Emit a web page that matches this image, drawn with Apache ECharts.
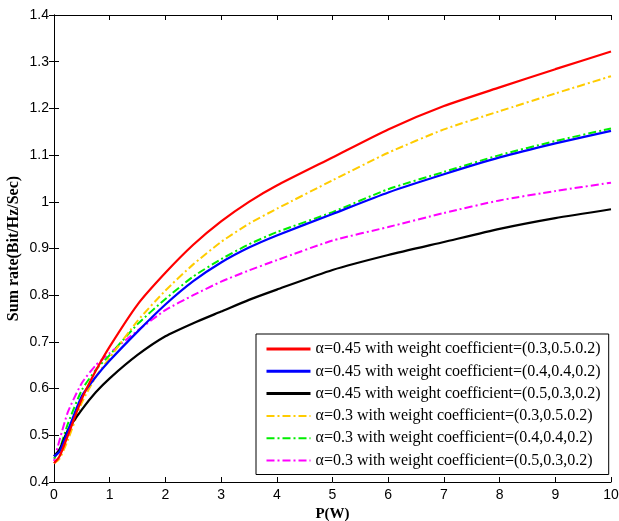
<!DOCTYPE html>
<html>
<head>
<meta charset="utf-8">
<script src="https://cdn.jsdelivr.net/npm/echarts@6/dist/echarts.min.js"></script>
<style>html,body{margin:0;padding:0;background:#fff;}#c{width:619px;height:521px;}</style>
</head>
<body>
<div id="c"></div>
<script>
var pValues = [0, 0.1, 0.25, 0.5, 0.75, 1, 1.5, 2, 2.5, 3, 3.5, 4, 5, 6, 7, 8, 9, 10];
var seriesNames = [
  'α=0.45 with weight coefficient=(0.3,0.5.0.2)',
  'α=0.45 with weight coefficient=(0.4,0.4,0.2)',
  'α=0.45 with weight coefficient=(0.5,0.3,0.2)',
  'α=0.3 with weight coefficient=(0.3,0.5.0.2)',
  'α=0.3 with weight coefficient=(0.4,0.4,0.2)',
  'α=0.3 with weight coefficient=(0.5,0.3,0.2)'
];
var red045     = [0.44, 0.455, 0.50, 0.578, 0.638, 0.69, 0.78, 0.848, 0.908, 0.958, 1.0, 1.035, 1.095, 1.155, 1.205, 1.245, 1.284, 1.322];
var blue045    = [0.455, 0.465, 0.51, 0.584, 0.625, 0.66, 0.722, 0.78, 0.83, 0.87, 0.902, 0.928, 0.974, 1.02, 1.059, 1.095, 1.125, 1.152];
var black045   = [0.455, 0.47, 0.511, 0.555, 0.592, 0.622, 0.672, 0.712, 0.74, 0.765, 0.79, 0.812, 0.854, 0.886, 0.914, 0.942, 0.965, 0.984];
var yellow03   = [0.44, 0.45, 0.49, 0.57, 0.625, 0.666, 0.745, 0.81, 0.866, 0.914, 0.953, 0.985, 1.046, 1.105, 1.155, 1.194, 1.232, 1.269];
var green03    = [0.45, 0.47, 0.525, 0.597, 0.64, 0.672, 0.738, 0.792, 0.84, 0.877, 0.909, 0.935, 0.978, 1.027, 1.064, 1.10, 1.13, 1.157];
var magenta03  = [0.445, 0.49, 0.55, 0.612, 0.65, 0.676, 0.724, 0.768, 0.8, 0.829, 0.853, 0.875, 0.917, 0.946, 0.976, 1.003, 1.023, 1.041];
var xTicks = [0, 1, 2, 3, 4, 5, 6, 7, 8, 9, 10];
var yTicks = [0.4, 0.5, 0.6, 0.7, 0.8, 0.9, 1, 1.1, 1.2, 1.3, 1.4];

function pairs(arr) { return pValues.map(function (p, i) { return [p, arr[i]]; }); }

var dashDot = [8, 3, 2, 3];
var styles = [
  { data: red045, color: '#ff0000', type: 'solid', width: 2.2, legendWidth: 3 },
  { data: blue045, color: '#0000ff', type: 'solid', width: 2.2, legendWidth: 3 },
  { data: black045, color: '#000000', type: 'solid', width: 2.2, legendWidth: 3 },
  { data: yellow03, color: '#ffcc00', type: dashDot, width: 2, legendWidth: 2 },
  { data: green03, color: '#00ee00', type: dashDot, width: 2, legendWidth: 2 },
  { data: magenta03, color: '#ff00ff', type: dashDot, width: 2, legendWidth: 2 }
];

var chart = echarts.init(document.getElementById('c'), null, { renderer: 'canvas' });
var tickFont = { fontFamily: 'Liberation Sans', fontSize: 14, color: '#000' };
var axisLineStyle = { lineStyle: { color: '#000', width: 1 } };

var option = {
  animation: false,
  backgroundColor: '#fff',
  grid: { left: 54, top: 15, right: 8, bottom: 39, containLabel: false, outerBoundsMode: 'none' },
  legend: {
    orient: 'vertical',
    left: 256,
    top: 334,
    padding: [7, 8, 6, 9],
    itemGap: 6.3,
    itemWidth: 44,
    itemHeight: 14,
    backgroundColor: '#fff',
    borderColor: '#000',
    borderWidth: 1,
    borderRadius: 0,
    itemStyle: { opacity: 0 },
    textStyle: { fontFamily: 'Liberation Serif', fontSize: 16, color: '#000' },
    data: seriesNames.map(function (n, i) {
      return { name: n, lineStyle: { width: styles[i].legendWidth, color: styles[i].color, type: styles[i].type } };
    })
  },
  xAxis: [
    {
      type: 'value', min: 0, max: 10, interval: 1,
      name: 'P(W)', nameLocation: 'middle', nameGap: 25, nameMoveOverlap: false,
      nameTextStyle: { fontFamily: 'Liberation Serif', fontWeight: 'bold', fontSize: 15, color: '#000' },
      axisLine: axisLineStyle,
      axisTick: { inside: true, length: 5, lineStyle: { color: '#000' } },
      axisLabel: Object.assign({ margin: 6, formatter: function (v) { return xTicks.indexOf(v) >= 0 ? String(v) : ''; } }, tickFont),
      splitLine: { show: false }
    },
    {
      type: 'value', min: 0, max: 10, interval: 1, position: 'top',
      axisLine: axisLineStyle,
      axisTick: { inside: true, length: 5, lineStyle: { color: '#000' } },
      axisLabel: { show: false },
      splitLine: { show: false }
    }
  ],
  yAxis: [
    {
      type: 'value', min: 0.4, max: 1.4, interval: 0.1,
      name: 'Sum rate(Bit/Hz/Sec)', nameLocation: 'middle', nameGap: 32, nameMoveOverlap: false,
      nameTextStyle: { fontFamily: 'Liberation Serif', fontWeight: 'bold', fontSize: 16, color: '#000' },
      axisLine: axisLineStyle,
      axisTick: { inside: true, length: 5, lineStyle: { color: '#000' } },
      axisLabel: Object.assign({ margin: 5, formatter: function (v) { var r = Math.round(v * 10) / 10; return String(r); } }, tickFont),
      splitLine: { show: false }
    },
    {
      type: 'value', min: 0.4, max: 1.4, interval: 0.1, position: 'right',
      axisLine: axisLineStyle,
      axisTick: { inside: true, length: 5, lineStyle: { color: '#000' } },
      axisLabel: { show: false },
      splitLine: { show: false }
    }
  ],
  series: styles.map(function (s, i) {
    return {
      name: seriesNames[i],
      type: 'line',
      xAxisIndex: 0,
      yAxisIndex: 0,
      data: pairs(s.data),
      smooth: 0.2,
      showSymbol: false,
      symbol: 'none',
      color: s.color,
      lineStyle: { color: s.color, width: s.width, type: s.type },
      itemStyle: { color: s.color },
      z: 6 - i
    };
  })
};
chart.setOption(option);
</script>
</body>
</html>
